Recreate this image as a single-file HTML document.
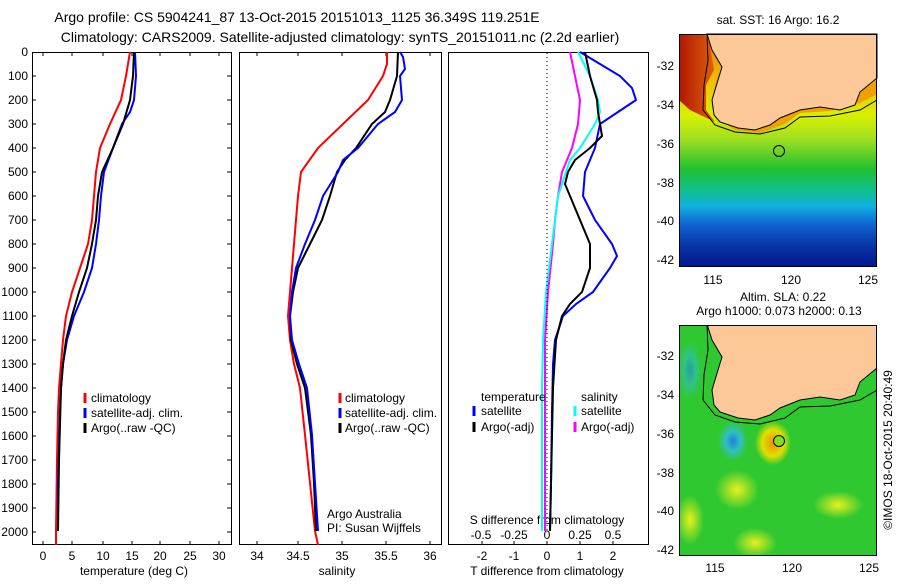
<!DOCTYPE html>
<html><head><meta charset="utf-8"><style>
body{margin:0;background:#fff;width:900px;height:580px;overflow:hidden}
text{font-family:"Liberation Sans",sans-serif;font-size:12px;fill:#000}
</style></head><body>
<svg width="900" height="580" viewBox="0 0 900 580" xmlns="http://www.w3.org/2000/svg">
<defs>
<linearGradient id="sst" x1="0" y1="0" x2="0" y2="1">
<stop offset="0" stop-color="#e87010"/><stop offset="0.2" stop-color="#f0c000"/>
<stop offset="0.35" stop-color="#d8f000"/><stop offset="0.45" stop-color="#a0e020"/>
<stop offset="0.58" stop-color="#20c030"/><stop offset="0.66" stop-color="#10c080"/>
<stop offset="0.74" stop-color="#10b0e0"/><stop offset="0.82" stop-color="#1060d0"/>
<stop offset="0.92" stop-color="#0830a0"/><stop offset="1" stop-color="#001890"/>
</linearGradient>
<linearGradient id="red" x1="0" y1="0" x2="1" y2="0">
<stop offset="0" stop-color="#b01800"/><stop offset="1" stop-color="#e06010"/>
</linearGradient>
<radialGradient id="warm"><stop offset="0" stop-color="#f09000"/><stop offset="0.6" stop-color="#e0e000"/><stop offset="1" stop-color="#e0e000" stop-opacity="0"/></radialGradient>
<radialGradient id="cool"><stop offset="0" stop-color="#2080e0"/><stop offset="0.5" stop-color="#30c0c0"/><stop offset="1" stop-color="#30c0c0" stop-opacity="0"/></radialGradient>
<radialGradient id="yel"><stop offset="0" stop-color="#e8f020"/><stop offset="1" stop-color="#e8f020" stop-opacity="0"/></radialGradient>
<clipPath id="c2"><rect x="679" y="325" width="198" height="231"/></clipPath>
</defs>

<text x="297" y="22" text-anchor="middle" style="font-size:14px">Argo profile: CS 5904241_87 13-Oct-2015 20151013_1125 36.349S 119.251E</text>
<text x="340" y="42" text-anchor="middle" style="font-size:14px">Climatology: CARS2009. Satellite-adjusted climatology: synTS_20151011.nc (2.2d earlier)</text>

<rect x="32.5" y="52.5" width="199" height="492" fill="none" stroke="#000"/>
<rect x="239.5" y="52.5" width="202" height="492" fill="none" stroke="#000"/>
<rect x="448.5" y="52.5" width="200" height="492" fill="none" stroke="#000"/>

<g text-anchor="end">
<text x="28" y="56">0</text><text x="28" y="80">100</text><text x="28" y="104">200</text><text x="28" y="128">300</text><text x="28" y="152">400</text><text x="28" y="176">500</text><text x="28" y="200">600</text><text x="28" y="224">700</text><text x="28" y="248">800</text><text x="28" y="272">900</text><text x="28" y="296">1000</text><text x="28" y="320">1100</text><text x="28" y="344">1200</text><text x="28" y="368">1300</text><text x="28" y="392">1400</text><text x="28" y="416">1500</text><text x="28" y="440">1600</text><text x="28" y="464">1700</text><text x="28" y="488">1800</text><text x="28" y="512">1900</text><text x="28" y="536">2000</text>
</g>
<g stroke="#000">
<path d="M32 76h4M32 100h4M32 124h4M32 148h4M32 172h4M32 196h4M32 220h4M32 244h4M32 268h4M32 292h4M32 316h4M32 340h4M32 364h4M32 388h4M32 412h4M32 436h4M32 460h4M32 484h4M32 508h4M32 532h4"/>
<path d="M231 76h-4M231 100h-4M231 124h-4M231 148h-4M231 172h-4M231 196h-4M231 220h-4M231 244h-4M231 268h-4M231 292h-4M231 316h-4M231 340h-4M231 364h-4M231 388h-4M231 412h-4M231 436h-4M231 460h-4M231 484h-4M231 508h-4M231 532h-4"/>
<path d="M43 52v4M72 52v4M103 52v4M132 52v4M160 52v4M190 52v4M219 52v4M43 545v-4M72 545v-4M103 545v-4M132 545v-4M160 545v-4M190 545v-4M219 545v-4"/>
<path d="M257 52v4M298 52v4M342 52v4M386 52v4M430 52v4M257 545v-4M298 545v-4M342 545v-4M386 545v-4M430 545v-4"/>
<path d="M482 545v-4M514 545v-4M547 545v-4M580 545v-4M613 545v-4"/>
</g>
<g text-anchor="middle">
<text x="43" y="560">0</text><text x="72" y="560">5</text><text x="103" y="560">10</text><text x="132" y="560">15</text><text x="160" y="560">20</text><text x="190" y="560">25</text><text x="219" y="560">30</text>
<text x="134" y="575">temperature (deg C)</text>
<text x="257" y="560">34</text><text x="298" y="560">34.5</text><text x="342" y="560">35</text><text x="386" y="560">35.5</text><text x="430" y="560">36</text>
<text x="337" y="575">salinity</text>
<text x="482" y="560">-2</text><text x="514" y="560">-1</text><text x="547" y="560">0</text><text x="580" y="560">1</text><text x="613" y="560">2</text>
<text x="547" y="575">T difference from climatology</text>
<text x="547" y="524">S difference from climatology</text>
<text x="481" y="539">-0.5</text><text x="514" y="539">-0.25</text><text x="547" y="539">0</text><text x="580" y="539">0.25</text><text x="613" y="539">0.5</text>
</g>

<g fill="none" stroke-width="2">
<polyline stroke="#f00" points="130,52 126,76 121,100 110,124 100,148 96,172 94,196 92,220 88,244 80,268 72,292 66,316 63,340 61,364 59,388 58,412 57,460 56,531 56,545"/>
<polyline stroke="#00f" points="135,52 136,76 134,100 130,112 122,124 113,148 104,172 101,196 99,220 96,244 92,268 84,292 74,316 67,340 63,364 61,388 60,412 58,483 58,531"/>
<polyline stroke="#000" points="134,52 133,76 130,100 123,124 113,148 102,172 98,196 96,220 92,244 87,268 79,292 72,316 66,340 63,364 61,388 59,460 58,531"/>

<polyline stroke="#f00" points="387,52 387,64 383,76 368,100 343,124 318,148 301,172 298,196 296,220 294,244 292,268 290,292 288,316 290,340 294,364 300,388 305,435 310,483 315,531 318,545"/>
<polyline stroke="#000" points="398,52 397,76 390,100 385,112 372,124 356,148 345,160 337,172 330,196 322,220 310,244 298,268 293,292 290,316 291,340 297,364 305,388 311,435 314,483 316,531"/>
<polyline stroke="#00f" points="400,52 403,57 405,69 400,76 402,100 395,112 378,124 358,148 343,160 338,172 323,196 315,220 305,244 296,268 292,292 290,316 292,340 299,364 307,388 312,435 315,483 318,531"/>

<polyline stroke="#f0f" points="570,52 575,76 580,100 578,124 572,148 562,172 558,196 555,220 553,244 548,292 545,340 545,411 545,531"/>
<polyline stroke="#0ff" points="578,52 590,76 598,100 600,112 595,124 580,148 570,160 566,172 558,196 552,244 546,292 543,340 542,388 542,531"/>
<polyline stroke="#00f" points="580,52 600,64 620,76 632,88 636,100 618,112 600,124 595,148 585,172 583,196 595,220 612,244 617,256 610,268 593,292 576,304 563,316 555,340 553,364 552,412 551,483 550,531"/>
<polyline stroke="#000" points="585,52 590,76 597,100 598,112 600,124 602,136 590,148 575,160 568,172 565,184 570,196 580,220 590,244 590,268 582,292 570,304 562,316 556,340 553,388 550,531"/>
</g>
<line x1="547" y1="53" x2="547" y2="530" stroke="#000" stroke-dasharray="1,3"/>

<g stroke-width="3">
<path d="M85 393v10" stroke="#f00"/><path d="M85 408v10" stroke="#00f"/><path d="M85 423v10" stroke="#000"/>
<path d="M340 393v10" stroke="#f00"/><path d="M340 408v10" stroke="#00f"/><path d="M340 423v10" stroke="#000"/>
<path d="M474 406v10" stroke="#00f"/><path d="M474 422v10" stroke="#000"/>
<path d="M575 406v10" stroke="#0ff"/><path d="M575 422v10" stroke="#f0f"/>
</g>
<text x="91" y="402">climatology</text><text x="91" y="417">satellite-adj. clim.</text><text x="91" y="432">Argo(..raw -QC)</text>
<text x="345" y="402">climatology</text><text x="345" y="417">satellite-adj. clim.</text><text x="345" y="432">Argo(..raw -QC)</text>
<text x="481" y="401">temperature</text><text x="481" y="415">satellite</text><text x="481" y="431">Argo(-adj)</text>
<text x="581" y="401">salinity</text><text x="581" y="415">satellite</text><text x="581" y="431">Argo(-adj)</text>
<text x="327" y="518">Argo Australia</text><text x="327" y="532">PI: Susan Wijffels</text>

<!-- top map -->
<text x="778" y="24" text-anchor="middle">sat. SST: 16 Argo: 16.2</text>
<rect x="679" y="34" width="198" height="233" fill="url(#sst)"/>
<polygon points="679,34 708,34 714,70 706,85 706,110 715,122 690,110 679,100" fill="url(#red)"/>
<polygon points="705,34 715,55 722,67 716,80 712,100 716,118 735,130 760,133 785,124 800,113 830,111 860,103 877,94 877,80 860,92 855,105 840,110 820,107 800,110 780,118 770,125 755,130 738,128 720,122 714,115 712,100 718,80 722,67 712,50 707,34" fill="#f0a000"/>
<g id="land">
<polygon points="707,34 712,50 722,67 718,80 712,100 714,115 720,122 738,128 755,130 770,125 780,118 800,110 820,107 840,110 855,105 860,92 877,78 877,34" fill="#fcc898" stroke="#000"/>
<polyline points="707,34 708,60 704,85 703,110 715,125 735,132 760,134 785,128 800,117 830,116 860,110 877,100" fill="none" stroke="#000"/>
</g>
<circle cx="779" cy="151" r="5.5" fill="none" stroke="#000"/>
<rect x="679.5" y="34.5" width="197" height="232" fill="none" stroke="#000"/>
<g text-anchor="end"><text x="674" y="70">-32</text><text x="674" y="109">-34</text><text x="674" y="148">-36</text><text x="674" y="187">-38</text><text x="674" y="225">-40</text><text x="674" y="264">-42</text></g>
<g text-anchor="middle"><text x="713" y="284">115</text><text x="791" y="284">120</text><text x="868" y="284">125</text></g>

<!-- lower map -->
<text x="783" y="301" text-anchor="middle">Altim. SLA: 0.22</text>
<text x="779" y="315" text-anchor="middle">Argo h1000: 0.073 h2000: 0.13</text>
<g clip-path="url(#c2)">
<rect x="679" y="325" width="198" height="231" fill="#30c830"/>
<ellipse cx="690" cy="370" rx="12" ry="30" fill="url(#cool)" opacity="0.6"/>
<ellipse cx="733" cy="441" rx="15" ry="20" fill="url(#cool)"/>
<ellipse cx="773" cy="443" rx="18" ry="22" fill="url(#warm)"/>
<ellipse cx="737" cy="490" rx="22" ry="20" fill="url(#yel)"/>
<ellipse cx="755" cy="543" rx="22" ry="15" fill="url(#yel)"/>
<ellipse cx="838" cy="505" rx="25" ry="14" fill="url(#yel)"/>
<ellipse cx="690" cy="520" rx="14" ry="25" fill="url(#yel)"/>
<use href="#land" transform="translate(0,290)"/>
</g>
<circle cx="779" cy="441" r="5.5" fill="#80e020" stroke="#000"/>
<rect x="679.5" y="325.5" width="197" height="230" fill="none" stroke="#000"/>
<g text-anchor="end"><text x="674" y="360">-32</text><text x="674" y="399">-34</text><text x="674" y="438">-36</text><text x="674" y="477">-38</text><text x="674" y="515">-40</text><text x="674" y="554">-42</text></g>
<g text-anchor="middle"><text x="715" y="572">115</text><text x="792" y="572">120</text><text x="869" y="572">125</text></g>
<text transform="translate(892,450) rotate(-90)" text-anchor="middle">©IMOS 18-Oct-2015 20:40:49</text>
</svg>
</body></html>
